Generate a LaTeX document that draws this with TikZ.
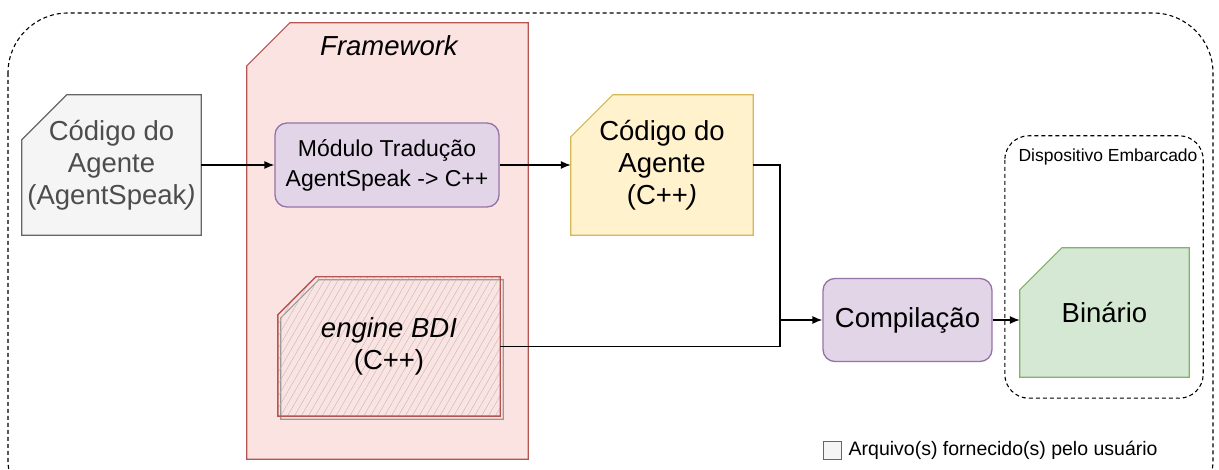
\documentclass[tikz,border=0pt]{standalone}
\usepackage{fontspec}
\setmainfont{Liberation Sans}
\usetikzlibrary{arrows.meta,backgrounds,patterns.meta}

\definecolor{grayfill}{HTML}{F5F5F5}
\definecolor{graydraw}{HTML}{666666}
\definecolor{graytext}{HTML}{4D4D4D}
\definecolor{redfill}{HTML}{FBE3E2}
\definecolor{reddraw}{HTML}{B85450}
\definecolor{purplefill}{HTML}{E1D5E7}
\definecolor{purpledraw}{HTML}{9673A6}
\definecolor{yellowfill}{HTML}{FFF2CC}
\definecolor{yellowdraw}{HTML}{D6B656}
\definecolor{greenfill}{HTML}{D5E8D4}
\definecolor{greendraw}{HTML}{82B366}

\newcommand{\bigtext}{\fontsize{27.5}{32}\selectfont}
\newcommand{\midtext}{\fontsize{23}{30}\selectfont}
\newcommand{\legtext}{\fontsize{19.5}{22}\selectfont}
\newcommand{\smalltext}{\fontsize{17.5}{20}\selectfont}

% card outline with the top left corner cut off
\newcommand{\card}[3]{%
  \path[#1] ([yshift=-#3]#2.north west) -- ([xshift=#3]#2.north west)
    -- (#2.north east) -- (#2.south east) -- (#2.south west) -- cycle;}

\tikzset{
  box/.style={rectangle, align=center, inner sep=0pt},
  proc/.style={box, rounded corners=12pt, fill=purplefill, draw=purpledraw, line width=1.3pt},
  flow/.style={-{Latex[length=10pt,width=8pt]}, line width=1.3pt},
  wire/.style={line width=1.3pt},
  frame/.style={line width=1.1pt, dash pattern=on 4pt off 3pt}
}

\begin{document}
\begin{tikzpicture}[x=1pt,y=-1pt]
  \useasboundingbox (0,0) rectangle (1219,470);
  \clip (0,0) rectangle (1219,470);

  % Nodes
  \node[box, minimum width=179pt, minimum height=140pt, text=graytext, font=\bigtext] (src) at (111.5,165) {Código do\\Agente\\(AgentSpeak\textit{)}};
  \node[box, minimum width=281pt, minimum height=436pt] (fw) at (387.5,241) {};
  \node[font=\bigtext\itshape] (fwtitle) at (389,46) {Framework};
  \node[proc, minimum width=224pt, minimum height=84pt, font=\midtext] (trad) at (387,165) {Módulo Tradução\\AgentSpeak -> C++};
  \node[box, minimum width=182pt, minimum height=140pt, font=\bigtext] (cppcode) at (662,165) {Código do\\Agente\\(C++\textit{)}};
  \node[box, minimum width=222pt, minimum height=139pt, font=\bigtext] (engine) at (389,346.5) {\textit{engine BDI}\\(C++)};
  \node[proc, minimum width=169pt, minimum height=83pt, font=\bigtext] (comp) at (907.5,320) {Compilação};
  \node[box, minimum width=169pt, minimum height=129pt, font=\bigtext] (bin) at (1104.5,312.5) {Binário};
  \node[box, minimum width=198pt, minimum height=262pt] (device) at (1104,267) {};
  \node[font=\smalltext] (devlabel) at (1108,157) {Dispositivo Embarcado};
  \node[box, draw=graydraw, fill=grayfill, minimum size=18pt, line width=1pt] (key) at (832,450) {};
  \node[anchor=west, inner sep=0pt, font=\legtext] (keytext) at ([xshift=7pt]key.east) {Arquivo(s) fornecido(s) pelo usuário};

  \begin{scope}[on background layer]
    % Frames
    \draw[frame, rounded corners=60pt] (8,13) rectangle (1213,520);
    \draw[frame, rounded corners=24pt] (device.north west) rectangle (device.south east);

    % Framework
    \card{fill=redfill, draw=reddraw, line width=1.2pt}{fw}{43pt}

    % engine BDI
    \card{draw=gray!80, line width=1.2pt, transform canvas={xshift=3pt,yshift=-3pt}}{engine}{38pt}
    \card{pattern={Lines[angle=60,distance=6pt,line width=0.4pt]}, pattern color=gray!55}{engine}{38pt}
    \card{draw=reddraw, line width=1.4pt}{engine}{38pt}

    % Files
    \card{fill=grayfill, draw=graydraw, line width=1.2pt}{src}{45pt}
    \card{fill=yellowfill, draw=yellowdraw, line width=1.2pt}{cppcode}{42pt}
    \card{fill=greenfill, draw=greendraw, line width=1.2pt}{bin}{42pt}
  \end{scope}

  % Connectors
  \coordinate (junc) at (780,320);
  \draw[flow] (src) -- (trad);
  \draw[flow] (trad) -- (cppcode);
  \draw[flow] (cppcode.east) -| (junc) -- (comp.west);
  \draw[wire] (engine.east) -| (junc);
  \draw[flow] (comp.east) -- (comp.east -| bin.west);
\end{tikzpicture}
\end{document}
